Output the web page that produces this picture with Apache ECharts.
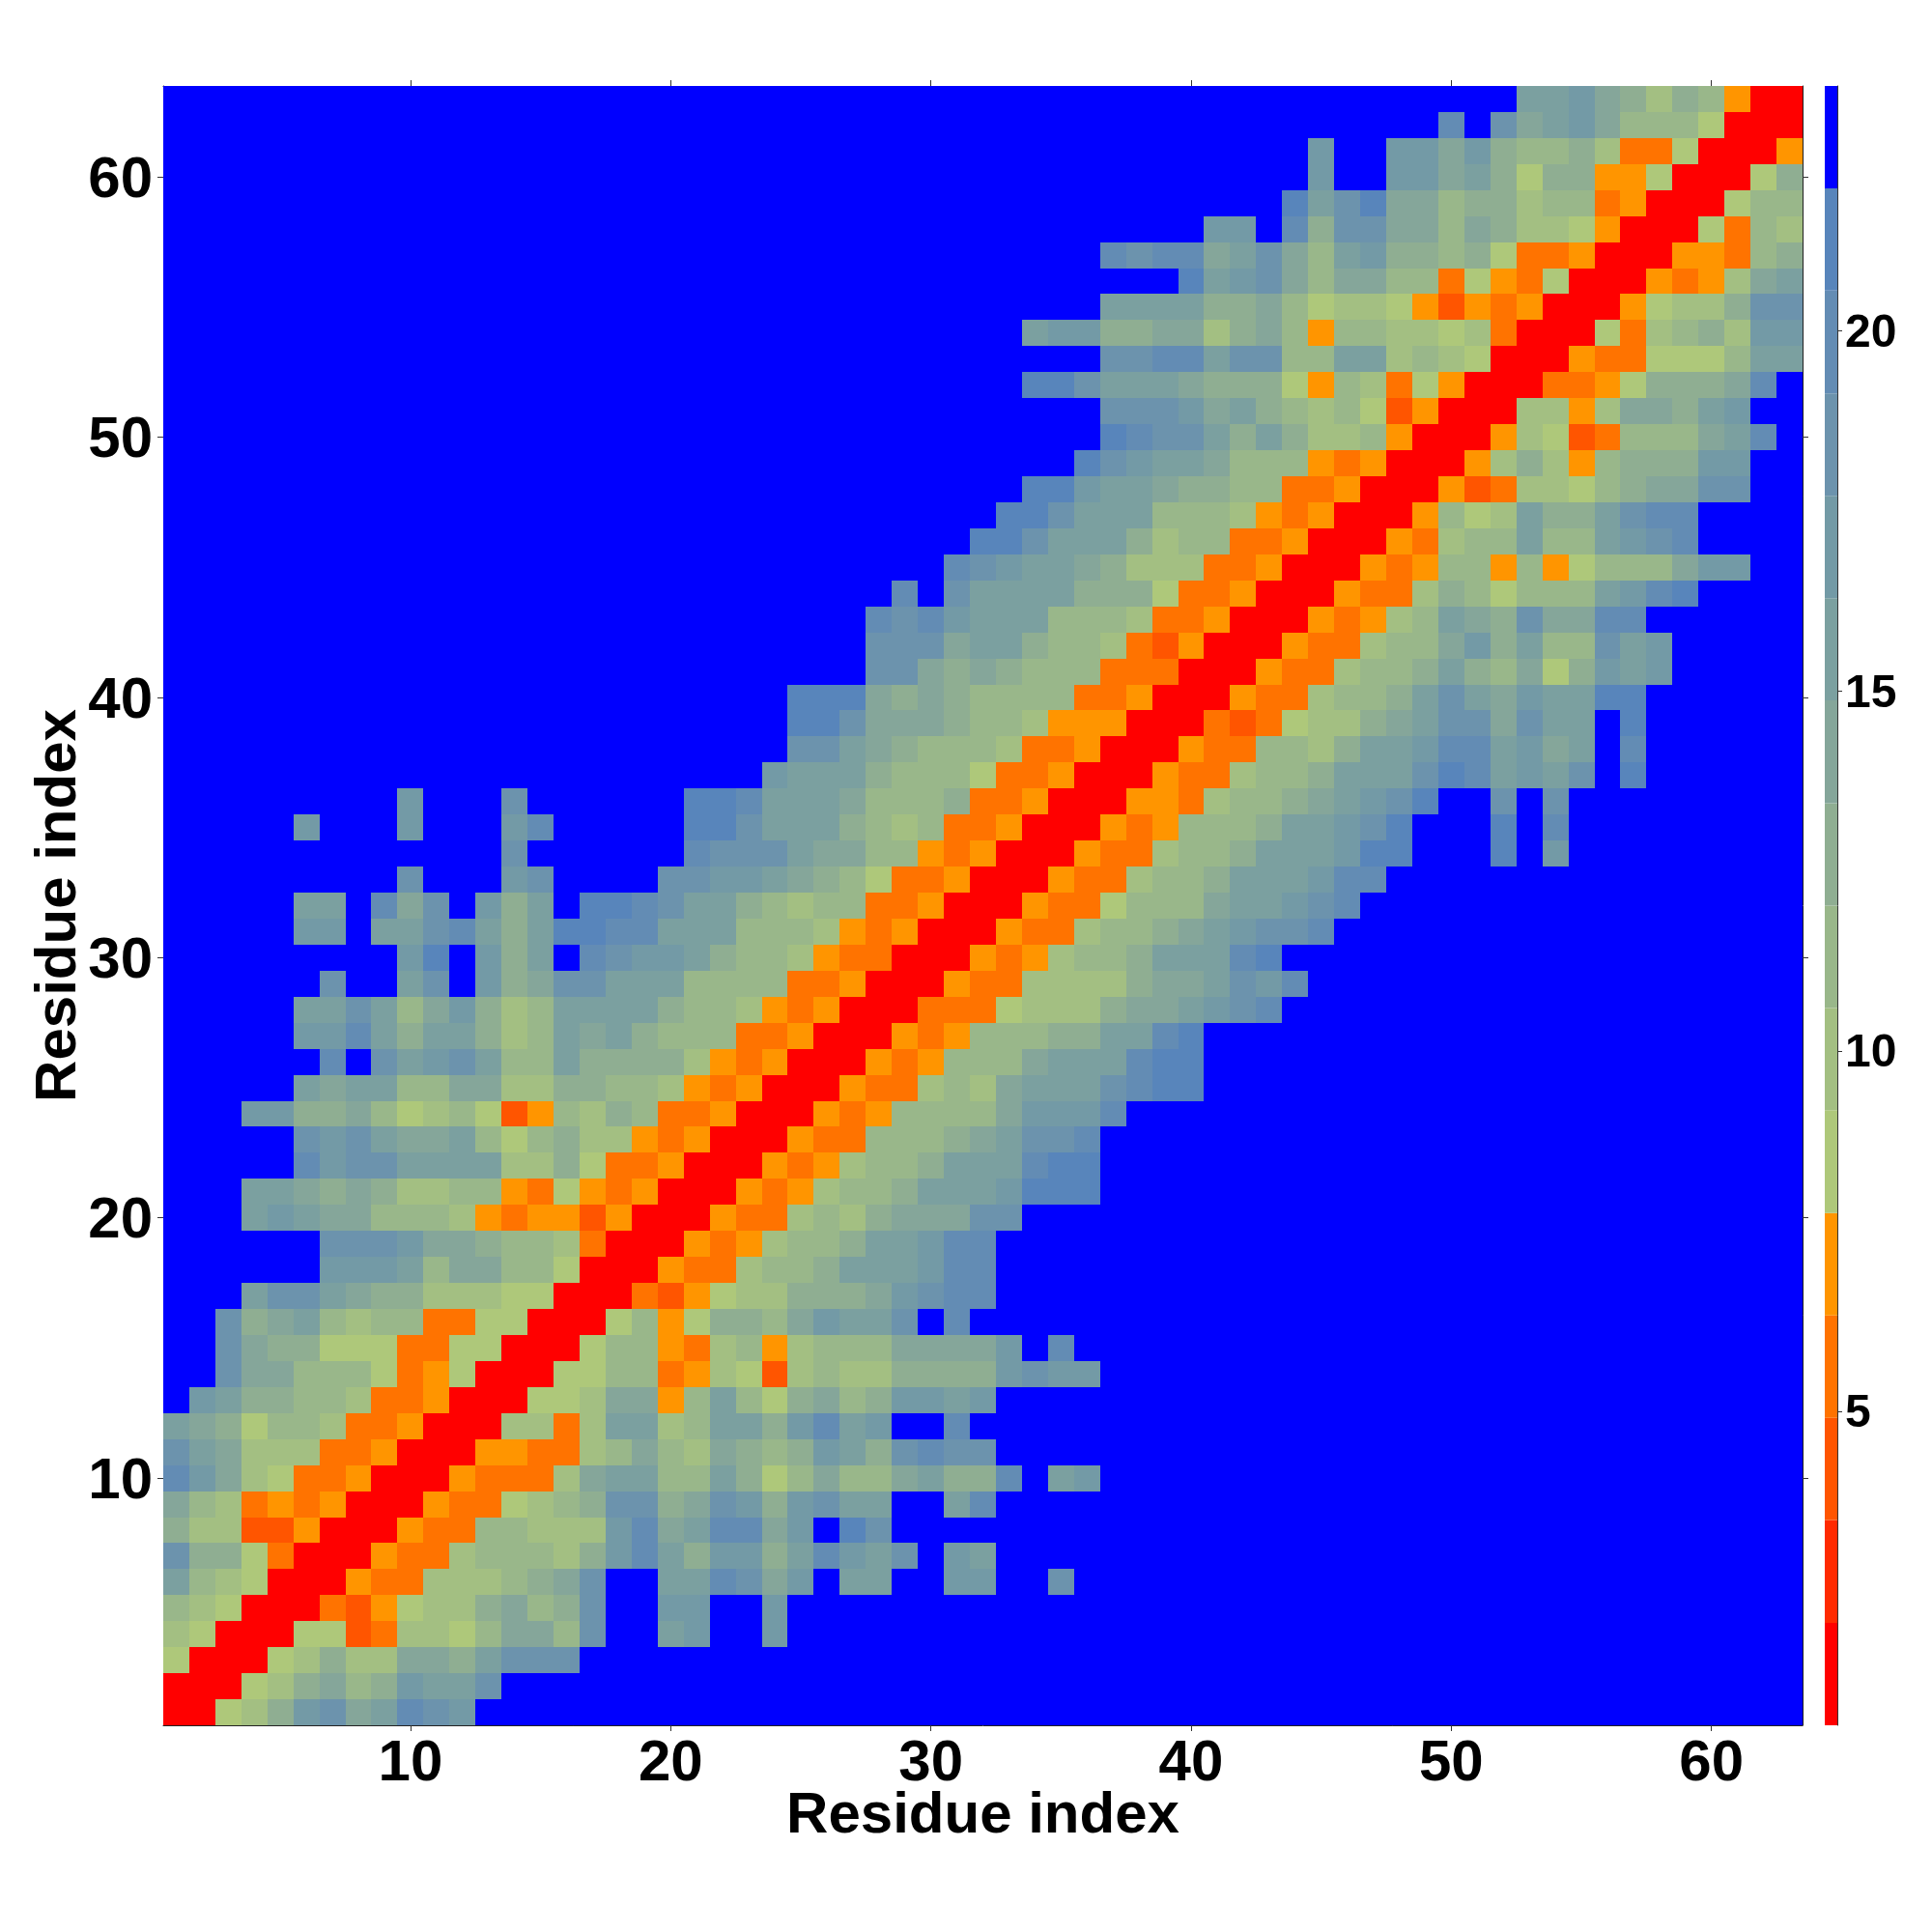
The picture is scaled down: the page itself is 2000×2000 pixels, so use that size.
<!DOCTYPE html>
<html><head><meta charset="utf-8">
<style>html,body{margin:0;padding:0;background:#fff}#c{width:2000px;height:2000px}</style>
<script src="https://cdn.jsdelivr.net/npm/echarts@6/dist/echarts.min.js"></script>
</head><body><div id="c"></div>
<script>
// Distance level read for each residue pair; a row stops at its last in-range cell.
const beyond = 23;
const row01=[1,1,8,10,13,17,19,14,16,20,19,17];
const row02=[1,1,1,8,10,13,14,11,13,17,16,16,19];
const row03=[8,1,1,1,8,10,13,10,10,14,14,13,16,19,19,19];
const row04=[10,8,1,1,1,8,8,4,6,10,10,8,11,14,14,11,19,23,23,16,17,23,23,17];
const row05=[11,10,8,1,1,1,6,4,7,8,10,10,13,14,11,13,19,23,23,17,17,23,23,17];
const row06=[16,11,10,8,1,1,1,7,6,6,10,10,10,11,13,14,19,23,23,16,16,20,19,14,17,23,16,16,23,23,17,17,23,23,19];
const row07=[19,13,13,8,6,1,1,1,7,6,6,10,11,11,11,10,13,17,20,16,13,17,17,13,16,20,17,16,19,23,17,16];
const row08=[13,10,10,4,4,7,1,1,1,7,6,6,11,11,10,10,10,17,20,14,16,20,20,14,17,23,21,19];
const row09=[14,11,10,6,7,6,7,1,1,1,7,6,6,8,10,11,13,19,19,13,14,19,17,13,17,19,16,16,23,23,16,20];
const row10=[20,17,14,10,8,6,6,7,1,1,1,7,6,6,6,10,14,16,16,11,11,16,13,8,11,14,11,11,14,16,13,13,20,23,16,17];
const row11=[19,16,14,10,10,10,6,6,7,1,1,1,7,7,6,6,10,11,14,11,10,14,13,11,13,17,16,13,19,20,19,19];
const row12=[16,14,13,8,11,11,10,6,6,7,1,1,1,10,10,6,10,16,16,10,11,16,16,13,17,20,16,17,23,23,20];
const row13=[23,17,16,13,13,11,11,10,6,6,7,1,1,1,8,8,10,14,14,7,11,16,11,8,13,14,11,13,17,17,16,17];
const row14=[23,23,19,14,14,11,11,11,8,6,7,8,1,1,1,8,8,11,11,6,7,10,8,4,10,11,10,10,13,13,13,13,17,19,17,17];
const row15=[23,23,19,14,13,13,8,8,8,6,6,8,8,1,1,1,8,11,11,7,6,10,11,7,10,11,11,11,14,14,14,14,17,23,20];
const row16=[23,23,19,13,14,16,11,10,11,11,6,6,8,8,1,1,1,8,11,7,8,13,13,11,14,17,16,16,19,23,20];
const row17=[23,23,23,16,19,19,16,14,13,13,10,10,10,8,8,1,1,1,6,4,7,8,10,10,13,13,13,14,17,19,20,20];
const row18=[23,23,23,23,23,23,17,17,17,16,11,14,14,11,11,8,1,1,1,7,6,6,10,11,11,13,16,16,16,17,20,20];
const row19=[23,23,23,23,23,23,19,19,19,17,14,14,13,11,11,10,6,1,1,1,7,6,7,10,11,11,13,16,16,17,20,20];
const row20=[23,23,23,16,17,16,14,14,11,11,11,10,7,6,7,7,4,7,1,1,1,7,6,6,10,11,10,13,14,14,14,19,19];
const row21=[23,23,23,16,16,14,13,14,13,10,10,11,11,7,6,8,7,6,7,1,1,1,7,6,7,10,11,11,13,16,16,16,17,21,21,21];
const row22=[23,23,23,23,23,20,17,19,19,16,16,16,16,10,10,13,8,6,6,7,1,1,1,7,6,7,10,11,11,13,16,16,16,20,21,21];
const row23=[23,23,23,23,23,19,17,19,16,14,14,16,11,8,11,13,10,10,7,6,7,1,1,1,7,6,6,11,11,11,13,14,16,19,19,20];
const row24=[23,23,23,17,17,13,13,14,11,8,10,11,8,4,7,11,10,13,11,6,6,7,1,1,1,7,6,7,11,11,11,11,14,17,17,17,20];
const row25=[23,23,23,23,23,16,14,16,16,11,11,14,14,10,10,13,13,11,11,10,7,6,7,1,1,1,7,6,6,10,11,10,14,16,16,16,19,20,21,21];
const row26=[23,23,23,23,23,23,20,23,19,16,17,19,16,11,11,16,13,13,13,13,10,7,6,7,1,1,1,7,6,7,11,11,11,14,16,16,16,20,21,21];
const row27=[23,23,23,23,23,17,17,20,16,13,16,16,13,10,11,16,14,16,13,11,11,11,6,6,7,1,1,1,7,6,7,11,11,11,13,13,16,16,20,21];
const row28=[23,23,23,23,23,16,16,19,16,11,14,17,13,10,11,16,16,16,16,13,11,11,10,7,6,7,1,1,1,6,6,6,8,10,10,10,13,14,14,16,17,19,20];
const row29=[23,23,23,23,23,23,19,23,23,16,19,23,17,13,14,19,19,16,16,16,11,11,11,11,6,6,7,1,1,1,7,6,6,10,10,10,10,13,14,14,16,19,17,20];
const row30=[23,23,23,23,23,23,23,23,23,17,21,23,17,13,16,23,20,19,17,17,16,13,11,11,10,7,6,6,1,1,1,7,6,7,10,11,11,13,16,16,16,20,21];
const row31=[23,23,23,23,23,17,17,23,16,16,19,20,16,13,16,21,21,20,20,16,16,16,11,11,11,10,7,6,7,1,1,1,7,6,6,10,11,11,13,14,16,17,19,19,20];
const row32=[23,23,23,23,23,16,16,23,20,14,19,23,17,13,16,23,21,21,20,19,16,16,13,11,10,11,11,6,6,7,1,1,1,7,6,6,8,11,11,11,14,16,16,17,19,20];
const row33=[23,23,23,23,23,23,23,23,23,19,23,23,23,17,19,23,23,23,23,19,19,17,17,16,14,13,11,8,6,6,7,1,1,1,7,6,6,10,11,11,13,16,16,16,17,20,20];
const row34=[23,23,23,23,23,23,23,23,23,23,23,23,23,19,23,23,23,23,23,23,20,19,19,19,16,14,14,11,11,7,6,7,1,1,1,7,6,6,10,11,11,13,16,16,16,17,21,21,23,23,23,21,23,17];
const row35=[23,23,23,23,23,17,23,23,23,17,23,23,23,17,20,23,23,23,23,23,21,21,19,16,16,16,13,11,10,11,6,6,7,1,1,1,7,6,7,11,11,11,13,16,16,17,19,21,23,23,23,21,23,20];
const row36=[23,23,23,23,23,23,23,23,23,17,23,23,23,19,23,23,23,23,23,23,21,21,20,16,16,16,14,11,11,11,13,6,6,7,1,1,1,7,7,6,10,11,11,13,14,16,17,19,21,23,23,19,23,19];
const row37=[23,23,23,23,23,23,23,23,23,23,23,23,23,23,23,23,23,23,23,23,23,23,23,17,16,16,16,13,11,11,11,8,6,6,7,1,1,1,7,6,6,10,11,11,13,16,16,16,19,21,20,16,17,16,19,23,21];
const row38=[23,23,23,23,23,23,23,23,23,23,23,23,23,23,23,23,23,23,23,23,23,23,23,23,19,19,16,14,13,11,11,11,10,6,6,7,1,1,1,7,6,6,11,11,10,13,16,16,17,20,20,16,17,14,16,23,20];
const row39=[23,23,23,23,23,23,23,23,23,23,23,23,23,23,23,23,23,23,23,23,23,23,23,23,21,21,19,14,14,14,13,11,11,10,7,7,7,1,1,1,6,4,6,8,10,10,13,14,16,19,19,14,19,16,16,23,21];
const row40=[23,23,23,23,23,23,23,23,23,23,23,23,23,23,23,23,23,23,23,23,23,23,23,23,21,21,21,14,13,14,13,11,11,11,11,6,6,7,1,1,1,7,6,6,10,11,11,13,16,19,16,14,17,16,16,21,21];
const row41=[23,23,23,23,23,23,23,23,23,23,23,23,23,23,23,23,23,23,23,23,23,23,23,23,23,23,23,19,19,14,13,14,13,11,11,11,6,6,6,1,1,1,7,6,6,10,11,11,13,16,13,11,14,8,13,17,16,17];
const row42=[23,23,23,23,23,23,23,23,23,23,23,23,23,23,23,23,23,23,23,23,23,23,23,23,23,23,23,19,19,19,14,16,16,13,11,11,10,6,4,7,1,1,1,7,6,6,10,11,11,14,17,13,16,11,11,19,16,17];
const row43=[23,23,23,23,23,23,23,23,23,23,23,23,23,23,23,23,23,23,23,23,23,23,23,23,23,23,23,20,19,20,17,16,16,16,11,11,11,10,6,6,7,1,1,1,7,6,7,10,11,16,14,13,19,14,14,20,20];
const row44=[23,23,23,23,23,23,23,23,23,23,23,23,23,23,23,23,23,23,23,23,23,23,23,23,23,23,23,23,20,23,19,16,16,16,16,13,13,13,8,6,6,7,1,1,1,7,6,6,10,13,11,8,11,11,11,16,17,20,21];
const row45=[23,23,23,23,23,23,23,23,23,23,23,23,23,23,23,23,23,23,23,23,23,23,23,23,23,23,23,23,23,23,20,19,17,16,16,14,13,10,10,10,6,6,7,1,1,1,7,6,7,11,11,7,11,7,8,11,11,11,14,17,17];
const row46=[23,23,23,23,23,23,23,23,23,23,23,23,23,23,23,23,23,23,23,23,23,23,23,23,23,23,23,23,23,23,23,21,21,19,16,16,16,13,10,11,11,6,6,7,1,1,1,7,6,10,11,11,16,11,11,16,17,19,20];
const row47=[23,23,23,23,23,23,23,23,23,23,23,23,23,23,23,23,23,23,23,23,23,23,23,23,23,23,23,23,23,23,23,23,21,21,19,16,16,16,11,11,11,10,7,6,7,1,1,1,7,11,8,10,16,13,13,16,19,20,20];
const row48=[23,23,23,23,23,23,23,23,23,23,23,23,23,23,23,23,23,23,23,23,23,23,23,23,23,23,23,23,23,23,23,23,23,21,21,17,16,16,14,13,13,11,11,6,6,7,1,1,1,7,4,6,10,10,8,11,13,14,14,19,19];
const row49=[23,23,23,23,23,23,23,23,23,23,23,23,23,23,23,23,23,23,23,23,23,23,23,23,23,23,23,23,23,23,23,23,23,23,23,21,19,17,16,16,14,11,11,11,7,6,7,1,1,1,7,10,13,10,7,11,13,13,13,17,17];
const row50=[23,23,23,23,23,23,23,23,23,23,23,23,23,23,23,23,23,23,23,23,23,23,23,23,23,23,23,23,23,23,23,23,23,23,23,23,21,20,19,19,16,13,16,13,10,10,11,7,1,1,1,7,10,8,4,6,11,11,11,14,16,20];
const row51=[23,23,23,23,23,23,23,23,23,23,23,23,23,23,23,23,23,23,23,23,23,23,23,23,23,23,23,23,23,23,23,23,23,23,23,23,19,19,19,17,14,16,13,11,10,11,8,4,7,1,1,1,10,10,7,10,14,14,13,16,17];
const row52=[23,23,23,23,23,23,23,23,23,23,23,23,23,23,23,23,23,23,23,23,23,23,23,23,23,23,23,23,23,23,23,23,23,21,21,19,16,16,16,14,13,13,13,8,7,11,10,6,8,7,1,1,1,6,6,7,8,13,13,13,14,20];
const row53=[23,23,23,23,23,23,23,23,23,23,23,23,23,23,23,23,23,23,23,23,23,23,23,23,23,23,23,23,23,23,23,23,23,23,23,23,19,19,20,20,16,19,19,11,11,16,16,10,11,10,8,1,1,1,7,6,6,8,8,8,11,16,16];
const row54=[23,23,23,23,23,23,23,23,23,23,23,23,23,23,23,23,23,23,23,23,23,23,23,23,23,23,23,23,23,23,23,23,23,16,17,17,13,13,14,14,10,13,14,11,7,11,11,10,10,8,10,6,1,1,1,8,6,10,11,13,10,17,17];
const row55=[23,23,23,23,23,23,23,23,23,23,23,23,23,23,23,23,23,23,23,23,23,23,23,23,23,23,23,23,23,23,23,23,23,23,23,23,16,16,16,16,13,13,14,11,8,10,10,8,7,4,7,6,7,1,1,1,7,8,10,10,13,19,19];
const row56=[23,23,23,23,23,23,23,23,23,23,23,23,23,23,23,23,23,23,23,23,23,23,23,23,23,23,23,23,23,23,23,23,23,23,23,23,23,23,23,21,16,17,19,14,11,14,14,11,11,6,8,7,6,8,1,1,1,7,6,7,10,14,16];
const row57=[23,23,23,23,23,23,23,23,23,23,23,23,23,23,23,23,23,23,23,23,23,23,23,23,23,23,23,23,23,23,23,23,23,23,23,23,20,19,20,20,14,16,19,14,11,16,17,13,13,11,13,8,6,6,7,1,1,1,7,7,6,11,13];
const row58=[23,23,23,23,23,23,23,23,23,23,23,23,23,23,23,23,23,23,23,23,23,23,23,23,23,23,23,23,23,23,23,23,23,23,23,23,23,23,23,23,17,17,23,20,13,19,19,14,14,11,14,13,10,10,8,7,1,1,1,8,6,11,10];
const row59=[23,23,23,23,23,23,23,23,23,23,23,23,23,23,23,23,23,23,23,23,23,23,23,23,23,23,23,23,23,23,23,23,23,23,23,23,23,23,23,23,23,23,23,21,16,19,21,14,14,11,13,13,10,11,11,6,7,1,1,1,8,11,11];
const row60=[23,23,23,23,23,23,23,23,23,23,23,23,23,23,23,23,23,23,23,23,23,23,23,23,23,23,23,23,23,23,23,23,23,23,23,23,23,23,23,23,23,23,23,23,17,23,23,17,17,14,16,13,8,13,13,7,7,8,1,1,1,8,13];
const row61=[23,23,23,23,23,23,23,23,23,23,23,23,23,23,23,23,23,23,23,23,23,23,23,23,23,23,23,23,23,23,23,23,23,23,23,23,23,23,23,23,23,23,23,23,17,23,23,17,17,14,17,13,11,11,13,10,6,6,8,1,1,1,7];
const row62=[23,23,23,23,23,23,23,23,23,23,23,23,23,23,23,23,23,23,23,23,23,23,23,23,23,23,23,23,23,23,23,23,23,23,23,23,23,23,23,23,23,23,23,23,23,23,23,23,23,20,23,19,14,16,17,14,11,11,11,8,1,1,1];
const row63=[23,23,23,23,23,23,23,23,23,23,23,23,23,23,23,23,23,23,23,23,23,23,23,23,23,23,23,23,23,23,23,23,23,23,23,23,23,23,23,23,23,23,23,23,23,23,23,23,23,23,23,23,16,16,17,14,13,10,13,11,7,1,1];
const rows=[row01,row02,row03,row04,row05,row06,row07,row08,row09,row10,row11,row12,row13,row14,row15,row16,row17,row18,row19,row20,row21,row22,row23,row24,row25,row26,row27,row28,row29,row30,row31,row32,row33,row34,row35,row36,row37,row38,row39,row40,row41,row42,row43,row44,row45,row46,row47,row48,row49,row50,row51,row52,row53,row54,row55,row56,row57,row58,row59,row60,row61,row62,row63];

const residues = rows.map((_, i) => String(i + 1));
const mapTicks = [10, 20, 30, 40, 50, 60];
const barTicks = [5, 10, 15, 20];
const axisName = 'Residue index';
const edges = [0.64,2.06,3.49,4.91,6.33,7.75,9.18,10.6,12.02,13.44,14.87,16.29,17.71,19.13,20.56,21.98,23.4];
const colors = ['#ff0000','#ff2a00','#ff5500','#ff7300','#ff9500','#aec87a','#a3bf82','#99b78a','#8fae92','#85a69a','#7ba0a0','#739aa6','#6c93ad','#638cb4','#5885bb','#0000ff'];

const cells = [];
rows.forEach((row, y) => residues.forEach((_, x) => {
  const v = row[x];
  cells.push([x, y, v === undefined ? beyond : v]);
}));
const isMapTick = (i) => mapTicks.includes(i + 1);
const font = 'Liberation Sans';
const catAxis = (pos, extra) => Object.assign({
  type: 'category', position: pos, data: residues, gridIndex: 0, boundaryGap: true,
  axisLine: { show: true, onZero: false, lineStyle: { color: '#222', width: 1 } },
  axisTick: { show: true, alignWithLabel: true, interval: isMapTick, length: 6, lineStyle: { color: '#333', width: 1 } },
  axisLabel: { show: false }, splitLine: { show: false }
}, extra);
const tickLabelX = { show: true, interval: isMapTick, fontFamily: font, fontWeight: 'bold', fontSize: 60, color: '#000', margin: 10 };
const tickLabelY = { show: true, interval: isMapTick, fontFamily: font, fontWeight: 'bold', fontSize: 60, lineHeight: 60, color: '#000', margin: 11, verticalAlign: 'top', padding: [-26, 0, 0, 0] };
const nameStyle = { fontFamily: font, fontWeight: 'bold', fontSize: 60, color: '#000' };

const barSeries = colors.map((c, i) => ({
  type: 'bar', xAxisIndex: 2, yAxisIndex: 2, stack: 'scale', barWidth: '100%', silent: true,
  itemStyle: { color: c }, data: [i === 0 ? edges[1] : +(edges[i + 1] - edges[i]).toFixed(2)]
}));

const renderCell = (params, api) => {
  const c = api.coord([api.value(0), api.value(1)]);
  const s = api.size([1, 1]);
  const x0 = Math.round(c[0] - s[0] / 2), x1 = Math.round(c[0] + s[0] / 2);
  const y0 = Math.round(c[1] - s[1] / 2), y1 = Math.round(c[1] + s[1] / 2);
  return { type: 'rect', shape: { x: x0, y: y0, width: x1 - x0, height: y1 - y0 }, style: { fill: api.visual('color') } };
};

const chart = echarts.init(document.getElementById('c'), null, { renderer: 'canvas', width: 2000, height: 2000 });
chart.setOption({
  animation: false,
  backgroundColor: '#fff',
  grid: [
    { left: 169, top: 89, width: 1697, height: 1697, show: false },
    { left: 1889, top: 89, width: 13, height: 1697, show: false }
  ],
  xAxis: [
    catAxis('bottom', { axisLabel: tickLabelX, name: axisName, nameLocation: 'middle', nameGap: 64, nameMoveOverlap: false, nameTextStyle: nameStyle }),
    catAxis('top', {}),
    { type: 'category', gridIndex: 1, data: [''], position: 'bottom', axisLine: { show: false }, axisTick: { show: false }, axisLabel: { show: false } }
  ],
  yAxis: [
    catAxis('left', { axisLabel: tickLabelY, name: axisName, nameLocation: 'middle', nameGap: 78, nameMoveOverlap: false, nameTextStyle: nameStyle }),
    catAxis('right', {}),
    { type: 'value', gridIndex: 1, position: 'right', min: edges[0], max: edges[16], splitLine: { show: false },
      axisLine: { show: true, lineStyle: { color: '#333', width: 1 } },
      axisTick: { show: true, customValues: barTicks, length: 5, lineStyle: { color: '#333' } },
      axisLabel: { show: true, customValues: barTicks, fontFamily: font, fontWeight: 'bold', fontSize: 48, lineHeight: 48, color: '#000', margin: 8, verticalAlign: 'top', padding: [-21, 0, 0, 0], formatter: (v) => String(v) } }
  ],
  visualMap: {
    type: 'piecewise', show: false, seriesIndex: 0, dimension: 2,
    pieces: colors.map((c, i) => ({ gte: edges[i], lt: i === 15 ? 1000 : edges[i + 1], color: c }))
  },
  series: [
    { type: 'custom', xAxisIndex: 0, yAxisIndex: 0, data: cells, silent: true, clip: true, progressive: 0,
      encode: { x: 0, y: 1 }, renderItem: renderCell }
  ].concat(barSeries)
});
</script></body></html>
